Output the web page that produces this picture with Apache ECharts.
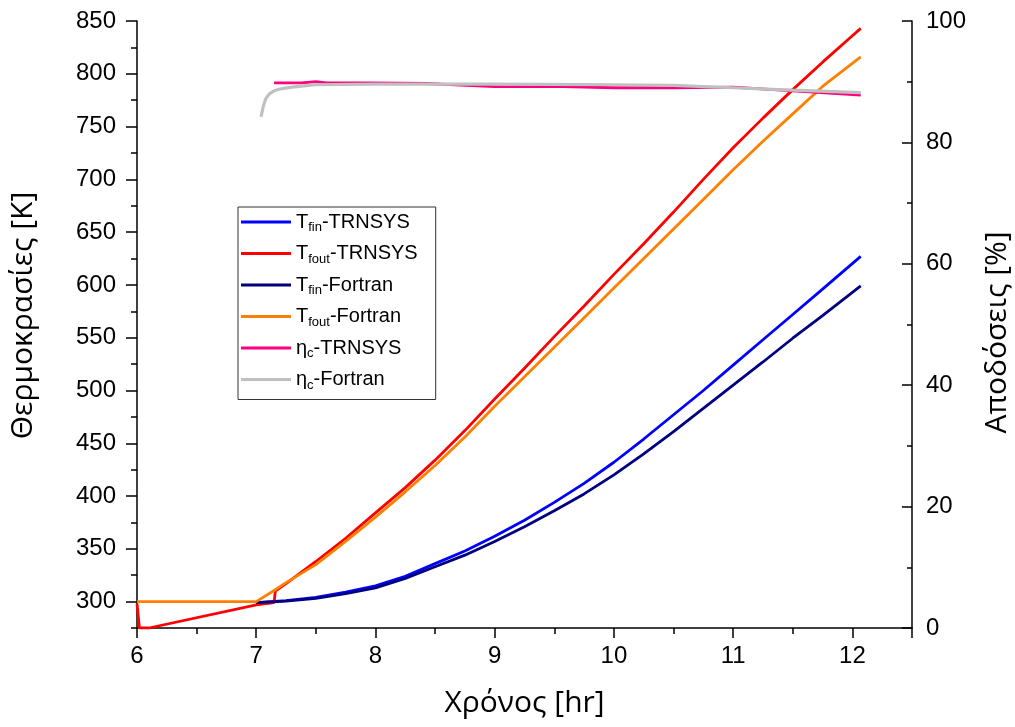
<!DOCTYPE html>
<html>
<head>
<meta charset="utf-8">
<script src="https://cdn.jsdelivr.net/npm/echarts@6/dist/echarts.min.js"></script>
<style>
html,body{margin:0;padding:0;background:#fff;}
#chart{width:1015px;height:727px;}
</style>
</head>
<body>
<div id="chart"></div>
<script>
// ---- data (x in hours, temperatures in K, efficiencies in %) ----
const tfinTrnsysX  = [7.0, 7.25, 7.5, 7.75, 8.0, 8.25, 8.5, 8.75, 9.0, 9.25, 9.5, 9.75, 10.0, 10.25, 10.5, 10.75, 11.0, 11.25, 11.5, 11.75, 12.07];
const tfinTrnsysY  = [299, 301, 304, 309, 315, 324, 336, 348, 362, 377, 394, 412, 432, 454, 477, 500, 524, 548, 572, 596, 627];

const tfoutTrnsysX = [6.0, 6.02, 6.1, 7.0, 7.15, 7.16, 7.25, 7.5, 7.75, 8.0, 8.25, 8.5, 8.75, 9.0, 9.25, 9.5, 9.75, 10.0, 10.25, 10.5, 10.75, 11.0, 11.25, 11.5, 11.75, 12.0, 12.07];
const tfoutTrnsysY = [298, 275, 275, 297, 299, 310, 317, 338, 360, 384, 408, 434, 462, 492, 521, 551, 580, 610, 639, 669, 700, 730, 758, 785, 811, 836, 843];

const tfinFortranX = [7.0, 7.25, 7.5, 7.75, 8.0, 8.25, 8.5, 8.75, 9.0, 9.25, 9.5, 9.75, 10.0, 10.25, 10.5, 10.75, 11.0, 11.25, 11.5, 11.75, 12.07];
const tfinFortranY = [299, 300.5, 303, 307.5, 313, 322, 333, 344, 357, 371, 386, 402, 420, 440, 461, 483, 505, 527, 549.5, 571, 599];

const tfoutFortranX = [6.0, 7.0, 7.17, 7.25, 7.5, 7.75, 8.0, 8.25, 8.5, 8.75, 9.0, 9.25, 9.5, 9.75, 10.0, 10.25, 10.5, 10.75, 11.0, 11.25, 11.5, 11.75, 12.07];
const tfoutFortranY = [300, 300, 312, 318, 335, 357, 380, 404, 429, 456, 485, 513, 541, 569, 597, 625, 653, 681, 709, 736, 762, 788, 816];

const etaTrnsysX = [7.15, 7.38, 7.39, 7.5, 7.59, 7.95, 8.43, 9.0, 9.58, 10.0, 10.5, 11.0, 11.5, 12.07];
const etaTrnsysY = [89.8, 89.8, 90.0, 90.0, 89.8, 89.8, 89.7, 89.2, 89.2, 89.0, 89.0, 89.1, 88.5, 87.8];

const etaFortranX = [7.04, 7.06, 7.08, 7.11, 7.15, 7.2, 7.3, 7.4, 7.5, 8.0, 9.0, 10.0, 10.5, 11.0, 11.5, 12.07];
const etaFortranY = [84.2, 86.0, 87.2, 88.0, 88.5, 88.8, 89.1, 89.3, 89.5, 89.6, 89.6, 89.5, 89.4, 89.0, 88.6, 88.2];

// ---- tick labels ----
const xTicks = [6, 7, 8, 9, 10, 11, 12];
const leftMajorTicks = [300, 350, 400, 450, 500, 550, 600, 650, 700, 750, 800, 850];
const leftMinorTicks = [275, 325, 375, 425, 475, 525, 575, 625, 675, 725, 775, 825];
const rightTicks = [0, 20, 40, 60, 80, 100];

const seriesNames = [
  'T{sub|fin}-TRNSYS', 'T{sub|fout}-TRNSYS', 'T{sub|fin}-Fortran',
  'T{sub|fout}-Fortran', 'η{sub|c}-TRNSYS', 'η{sub|c}-Fortran'
];
const colors = ['#0000ff', '#ff0000', '#000080', '#ff8000', '#ff0080', '#c0c0c0'];

function zip(xs, ys) { return xs.map((x, i) => [x, ys[i]]); }

const seriesDefs = [
  { x: tfinTrnsysX, y: tfinTrnsysY, axis: 0 },
  { x: tfoutTrnsysX, y: tfoutTrnsysY, axis: 0 },
  { x: tfinFortranX, y: tfinFortranY, axis: 0 },
  { x: tfoutFortranX, y: tfoutFortranY, axis: 0 },
  { x: etaTrnsysX, y: etaTrnsysY, axis: 2 },
  { x: etaFortranX, y: etaFortranY, axis: 2 }
];

const labelFont = 'Liberation Sans, Arial, sans-serif';
const titleFont = 'Open Sans, Noto Sans, sans-serif';
const axisCol = '#000';

const chart = echarts.init(document.getElementById('chart'), null, { renderer: 'canvas' });
chart.setOption({
  backgroundColor: '#fff',
  animation: false,
  grid: { left: 137, right: 103, top: 21, bottom: 99, containLabel: false, outerBoundsMode: 'none' },
  legend: {
    orient: 'vertical',
    left: 238, top: 207,
    backgroundColor: '#fff',
    borderColor: '#333', borderWidth: 1,
    padding: [4, 18, 8, 3],
    itemWidth: 50, itemHeight: 3, itemGap: 8.5,
    icon: 'rect',
    data: seriesNames,
    textStyle: {
      fontFamily: labelFont, fontSize: 20, color: '#000', lineHeight: 22,
      rich: {
        sub: { fontFamily: labelFont, fontSize: 13, color: '#000', padding: [11, 0, 0, 0] }
      }
    }
  },
  xAxis: {
    type: 'value', min: 6, max: 12.5, interval: 1,
    name: 'Χρόνος [hr]', nameLocation: 'middle', nameGap: 60,
    nameTextStyle: { fontFamily: titleFont, fontSize: 30, color: '#000' },
    axisLine: { show: true, onZero: false, lineStyle: { color: axisCol, width: 1.5 } },
    axisTick: { show: true, inside: false, length: 10, lineStyle: { color: axisCol, width: 1.5 } },
    minorTick: { show: true, splitNumber: 2, length: 6, lineStyle: { color: axisCol, width: 1.5 } },
    axisLabel: {
      margin: 16, fontFamily: labelFont, fontSize: 24, color: '#000',
      customValues: xTicks
    },
    splitLine: { show: false }
  },
  yAxis: [
    {
      type: 'value', min: 275, max: 850, position: 'left',
      name: 'Θερμοκρασίες [K]', nameLocation: 'middle', nameGap: 99, nameRotate: 90,
      nameTextStyle: { fontFamily: titleFont, fontSize: 30, color: '#000', padding: [0, 0, 0, 18] },
      axisLine: { show: true, onZero: false, lineStyle: { color: axisCol, width: 1.5 } },
      axisTick: { show: true, inside: false, length: 11, customValues: leftMajorTicks, lineStyle: { color: axisCol, width: 1.5 } },
      minorTick: { show: false },
      axisLabel: { margin: 21, fontFamily: labelFont, fontSize: 24, color: '#000', customValues: leftMajorTicks },
      splitLine: { show: false }
    },
    {
      type: 'value', min: 275, max: 850, position: 'left',
      axisLine: { show: false },
      axisTick: { show: true, inside: false, length: 6, customValues: leftMinorTicks, lineStyle: { color: axisCol, width: 1.5 } },
      axisLabel: { show: false },
      splitLine: { show: false }
    },
    {
      type: 'value', min: 0, max: 100, interval: 20, position: 'right',
      name: 'Αποδόσεις [%]', nameLocation: 'middle', nameGap: 70, nameRotate: 90,
      nameTextStyle: { fontFamily: titleFont, fontSize: 30, color: '#000', padding: [0, 16, 0, 0] },
      axisLine: { show: true, onZero: false, lineStyle: { color: axisCol, width: 1.5 } },
      axisTick: { show: true, inside: true, length: 10, lineStyle: { color: axisCol, width: 1.5 } },
      minorTick: { show: true, splitNumber: 2, length: 5, lineStyle: { color: axisCol, width: 1.5 } },
      axisLabel: { margin: 14, fontFamily: labelFont, fontSize: 24, color: '#000', customValues: rightTicks },
      splitLine: { show: false }
    }
  ],
  series: seriesDefs.map((d, i) => ({
    name: seriesNames[i],
    type: 'line',
    yAxisIndex: d.axis,
    data: zip(d.x, d.y),
    smooth: false,
    showSymbol: false,
    symbol: 'none',
    color: colors[i],
    lineStyle: { color: colors[i], width: i === 5 ? 3.2 : 2.8 },
    z: 2 + i
  }))
});
</script>
</body>
</html>
